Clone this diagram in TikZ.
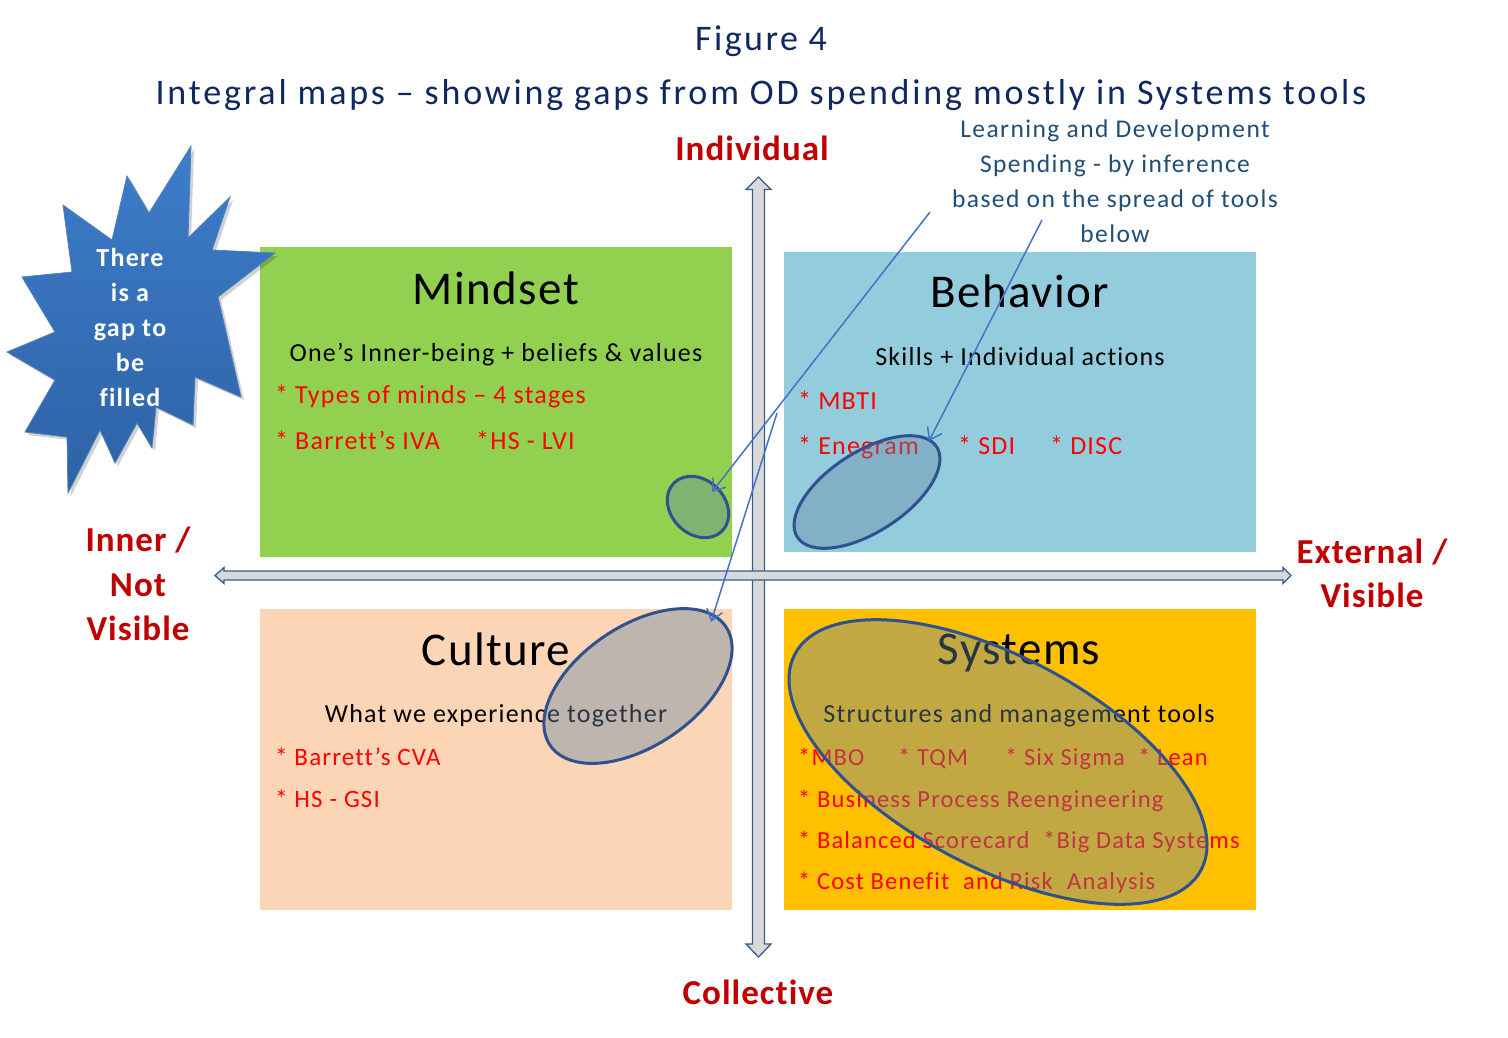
\documentclass[tikz,border=0pt]{standalone}
\usepackage{fontspec}
\setmainfont{Carlito}[Ligatures=NoCommon]
\newfontfamily\ttlfont[LetterSpace=6.8,Ligatures=NoCommon]{Carlito}
\newfontfamily\ttlfontb[LetterSpace=7.8,Ligatures=NoCommon]{Carlito}
\newfontfamily\lblfont[LetterSpace=2.9,Ligatures=NoCommon]{Carlito}
\newfontfamily\midfont[LetterSpace=4.7,Ligatures=NoCommon]{Carlito}
\newfontfamily\ldfont[LetterSpace=5.6,Ligatures=NoCommon]{Carlito}
\newfontfamily\bigfont[LetterSpace=3.0,Ligatures=NoCommon]{Carlito}
\newfontfamily\starfont[LetterSpace=5.0,Ligatures=NoCommon]{Carlito}
\usetikzlibrary{arrows.meta,shapes.geometric}
\definecolor{navy}{RGB}{16,40,96}
\definecolor{ldblue}{RGB}{31,78,121}
\definecolor{lblred}{RGB}{192,0,0}
\definecolor{listred}{RGB}{255,0,0}
\definecolor{mindgreen}{RGB}{146,208,80}
\definecolor{behblue}{RGB}{147,205,221}
\definecolor{culpeach}{RGB}{251,213,181}
\definecolor{sysorange}{RGB}{255,192,0}
\definecolor{axisfill}{RGB}{217,217,217}
\definecolor{axisline}{RGB}{56,93,138}
\definecolor{ellline}{RGB}{47,82,143}
\definecolor{ellfill}{RGB}{102,134,166}
\definecolor{pointer}{RGB}{68,114,196}
\definecolor{startop}{RGB}{61,125,202}
\definecolor{starbot}{RGB}{46,98,165}
\definecolor{starline}{RGB}{79,129,189}
\tikzset{
  txt/.style={inner sep=0pt, anchor=base},
  txtw/.style={inner sep=0pt, anchor=base west},
  ttl/.style={txt, text=navy, font=\ttlfont\fontsize{36}{40}\selectfont},
  ttlb/.style={txt, text=navy, font=\ttlfontb\fontsize{36}{40}\selectfont},
  axlbl/.style={txt, text=lblred, font=\lblfont\bfseries\fontsize{35}{40}\selectfont},
  ldtext/.style={txt, text=ldblue, font=\ldfont\fontsize{25.5}{30}\selectfont},
  boxttl/.style={txt, text=black, font=\bigfont\fontsize{47}{52}\selectfont},
  boxsub/.style={txt, text=black, font=\midfont\fontsize{26}{30}\selectfont},
  item/.style={txtw, text=listred, font=\midfont\fontsize{26}{30}\selectfont},
  itemc/.style={txtw, text=listred, font=\midfont\fontsize{25}{30}\selectfont},
  items/.style={txtw, text=listred, font=\midfont\fontsize{24.5}{30}\selectfont},
  startxt/.style={txt, text=white, font=\starfont\bfseries\fontsize{26}{30}\selectfont},
  gapell/.style={ellipse, draw=ellline, line width=3pt, fill=ellfill, fill opacity=0.4, draw opacity=1, inner sep=0pt},
  ptr/.style={draw=pointer, line width=1.5pt, -{Straight Barb[length=11pt,width=16pt,line width=1.5pt]}},
  axarrow/.style={fill=axisfill, draw=axisline, line width=1.3pt, line join=miter}
}
\begin{document}
\begin{tikzpicture}[x=1pt,y=1pt]
\useasboundingbox[fill=white] (0,0) rectangle (1508,-1037);

% title
\node[ttl] (t1) at (761,-50) {Figure 4};
\node[ttlb] (t2) at (761,-104) {Integral maps – showing gaps from OD spending mostly in Systems tools};

% quadrant boxes
\fill[mindgreen] (260,-247) rectangle (732,-557);
\fill[behblue] (784,-252) rectangle (1256,-552);
\fill[culpeach] (260,-609) rectangle (732,-910);
\fill[sysorange] (784,-609) rectangle (1256,-910);

% axes
\path[axarrow] (758.5,-177) -- (771,-189.5) -- (764.5,-189.5) -- (764.5,-944) -- (771,-944) -- (758.5,-957) -- (746,-944) -- (752.5,-944) -- (752.5,-189.5) -- (746,-189.5) -- cycle;
\path[axarrow] (215,-575.5) -- (224,-567.5) -- (224,-571) -- (1283,-571) -- (1283,-567.5) -- (1291,-575.5) -- (1283,-583.5) -- (1283,-580) -- (224,-580) -- (224,-583.5) -- cycle;

% axis labels
\node[axlbl] (ind) at (752,-160) {Individual};
\node[axlbl] (col) at (758,-1004) {Collective};
\node[axlbl] (in1) at (138,-551) {Inner /};
\node[axlbl] (in2) at (138,-596) {Not};
\node[axlbl] (in3) at (138,-640) {Visible};
\node[axlbl] (ex1) at (1372,-563) {External /};
\node[axlbl] (ex2) at (1372,-607) {Visible};

% L&D text
\node[ldtext] (ld1) at (1115,-137) {Learning and Development};
\node[ldtext] (ld2) at (1115,-172) {Spending - by inference};
\node[ldtext] (ld3) at (1115,-207) {based on the spread of tools};
\node[ldtext] (ld4) at (1115,-242) {below};

% Mindset
\node[boxttl] (mt) at (496,-304) {Mindset};
\node[boxsub] (ms) at (496,-361) {One’s Inner-being + beliefs \& values};
\node[item] (m1) at (275,-403) {* Types of minds – 4 stages};
\node[item] (m2) at (275,-449) {* Barrett’s IVA};
\node[item] (m3) at (476,-449) {*HS - LVI};

% Behavior
\node[boxttl] (bt) at (1020,-307) {Behavior};
\node[boxsub] (bs) at (1020,-365) {Skills + Individual actions};
\node[item] (b1) at (798,-409) {* MBTI};
\node[item] (b2) at (798,-454) {* Enegram};
\node[item] (b3) at (958,-454) {* SDI};
\node[item] (b4) at (1050,-454) {* DISC};

% Culture
\node[boxttl] (ct) at (496,-665) {Culture};
\node[boxsub] (cs) at (496,-722) {What we experience together};
\node[itemc] (c1) at (275,-765) {* Barrett’s CVA};
\node[itemc] (c2) at (275,-807) {* HS - GSI};

% Systems
\node[boxttl] (st) at (1019,-664) {Systems};
\node[boxsub] (ss) at (1019,-722) {Structures and management tools};
\node[items] (s1) at (798,-765) {*MBO};
\node[items] (s2) at (898,-765) {* TQM};
\node[items] (s3) at (1005,-765) {* Six Sigma};
\node[items] (s4) at (1138,-765) {* Lean};
\node[items] (s5) at (798,-807) {* Business Process Reengineering};
\node[items] (s6) at (798,-848) {* Balanced Scorecard};
\node[items] (s7) at (1043,-848) {*Big Data Systems};
\node[items] (s8) at (798,-889) {* Cost Benefit};
\node[items] (s9) at (963,-889) {and Risk};
\node[items] (s10) at (1067,-889) {Analysis};

% gap ellipses
\node[gapell, minimum width=54pt, minimum height=68pt, rotate=45] (e1) at (698,-507) {};
\node[gapell, minimum width=166pt, minimum height=80pt, rotate=33] (e2) at (867,-492) {};
\node[gapell, minimum width=212pt, minimum height=120pt, rotate=34] (e3) at (638,-686) {};
\node[gapell, minimum width=460pt, minimum height=210pt, rotate=-28] (e4) at (998,-762) {};

% pointers
\coordinate (p1s) at (930,-212);
\coordinate (p1e) at (712,-492);
\coordinate (p2s) at (1042,-220);
\coordinate (p2e) at (929,-441);
\coordinate (p3s) at (777,-413);
\coordinate (p3e) at (711,-622);
\draw[ptr] (p1s) -- (p1e);
\draw[ptr] (p2s) -- (p2e);
\draw[ptr] (p3s) -- (p3e);

% starburst
\def\starpath{(191,-146) -- (188,-238) -- (230,-197) -- (212,-250) -- (275,-253) -- (218,-297) -- (241,-397) -- (195,-377) -- (193,-425) -- (156,-407) -- (152,-448) -- (137,-423) -- (115,-463) -- (100,-430) -- (68,-493) -- (67,-437) -- (25,-432) -- (55,-380) -- (7,-352) -- (55,-332) -- (22,-277) -- (72,-272) -- (63,-205) -- (112,-240) -- (127,-176) -- (149,-213) -- cycle}
\fill[black, opacity=0.18] [xshift=3pt, yshift=-3pt] \starpath;
\shade[top color=startop, bottom color=starbot, draw=starline, line width=0.8pt, line join=miter] \starpath;
\node[startxt] (g1) at (130,-266) {There};
\node[startxt] (g2) at (130,-301) {is a};
\node[startxt] (g3) at (130,-336) {gap to};
\node[startxt] (g4) at (130,-371) {be};
\node[startxt] (g5) at (130,-406) {filled};
\end{tikzpicture}
\end{document}
